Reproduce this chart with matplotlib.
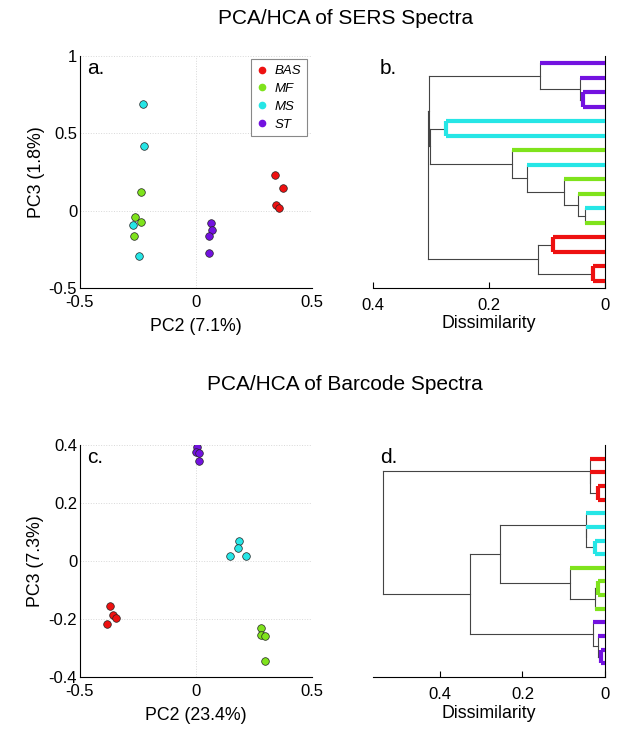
import matplotlib
matplotlib.use("Agg")
import matplotlib.pyplot as plt
from matplotlib.lines import Line2D

plt.rcParams["font.family"] = ["Liberation Sans", "DejaVu Sans"]

# ---------- data ----------
groups = ["BAS", "MF", "MS", "ST"]
group_colors = {"BAS": "#ee1111", "MF": "#7fe31c", "MS": "#26e6e6", "ST": "#7312e0"}

# SERS PCA scores (PC2, PC3)
sers_pc2 = {
    "BAS": [0.339, 0.375, 0.344, 0.358],
    "MF": [-0.237, -0.263, -0.237, -0.266],
    "MS": [-0.227, -0.223, -0.270, -0.245],
    "ST": [0.064, 0.070, 0.055, 0.057],
}
sers_pc3 = {
    "BAS": [0.229, 0.146, 0.039, 0.017],
    "MF": [0.118, -0.039, -0.075, -0.161],
    "MS": [0.692, 0.418, -0.092, -0.293],
    "ST": [-0.081, -0.126, -0.161, -0.274],
}

# Barcode PCA scores (PC2, PC3)
bar_pc2 = {
    "BAS": [-0.371, -0.359, -0.345, -0.385],
    "MF": [0.282, 0.279, 0.296, 0.296],
    "MS": [0.186, 0.181, 0.148, 0.217],
    "ST": [0.005, -0.001, 0.014, 0.012],
}
bar_pc3 = {
    "BAS": [-0.155, -0.187, -0.196, -0.216],
    "MF": [-0.231, -0.256, -0.260, -0.345],
    "MS": [0.070, 0.045, 0.017, 0.018],
    "ST": [0.394, 0.377, 0.374, 0.346],
}

# dendrogram leaves (top to bottom) and merges (child a, child b, dissimilarity)
sers_leaves = ["ST", "ST", "ST", "ST", "MS", "MS", "MF", "MS",
               "MF", "MF", "MS", "MF", "BAS", "BAS", "BAS", "BAS"]
sers_merges = [
    (2, 3, 0.038), (1, 16, 0.0425), (0, 17, 0.1126), (4, 5, 0.2736),
    (10, 11, 0.034), (9, 20, 0.0466), (8, 21, 0.0707), (7, 22, 0.134),
    (6, 23, 0.160), (19, 24, 0.302), (18, 25, 0.303), (12, 13, 0.0897),
    (14, 15, 0.0207), (27, 28, 0.1155), (26, 29, 0.305),
]

bar_leaves = ["BAS", "BAS", "BAS", "BAS", "MS", "MS", "MS", "MS",
              "MF", "MF", "MF", "MF", "ST", "ST", "ST", "ST"]
bar_merges = [
    (2, 3, 0.016), (1, 16, 0.0355), (0, 17, 0.037), (6, 7, 0.025),
    (5, 19, 0.045), (4, 20, 0.0468), (9, 10, 0.016), (11, 22, 0.024),
    (8, 23, 0.0855), (21, 24, 0.254), (14, 15, 0.0097), (13, 26, 0.016),
    (12, 27, 0.029), (25, 28, 0.327), (18, 29, 0.537),
]

TICK_FS = 12
LABEL_FS = 12.8


def pca_panel(ax, pc2, pc3, ylim, yticks, yticklabels, xlabel, ylabel):
    for g in groups:
        ax.scatter(pc2[g], pc3[g], s=30, c=group_colors[g], edgecolors="#222222",
                   linewidths=0.5, zorder=3)
    ax.set_xlim(-0.5, 0.5)
    ax.set_ylim(*ylim)
    ax.set_xticks([-0.5, 0, 0.5])
    ax.set_xticklabels(["-0.5", "0", "0.5"])
    ax.set_yticks(yticks)
    ax.set_yticklabels(yticklabels)
    ax.grid(True, color="#d8d8d8", linestyle=":", linewidth=0.7)
    ax.spines["top"].set_visible(False)
    ax.spines["right"].set_visible(False)
    ax.tick_params(direction="in", length=0, labelsize=TICK_FS)
    ax.tick_params(axis="x", pad=5)
    ax.tick_params(axis="y", pad=2)
    ax.set_xlabel(xlabel, fontsize=LABEL_FS, labelpad=6)
    ax.set_ylabel(ylabel, fontsize=LABEL_FS, labelpad=3)


def dendro_panel(ax, leaves, merges, xmax, ylim):
    n = len(leaves)
    ypos = {i: i + 1 for i in range(n)}
    height = {i: 0.0 for i in range(n)}
    for k, (a, b, d) in enumerate(merges):
        node = n + k
        same = a < n and b < n and leaves[a] == leaves[b]
        for c in (a, b):
            if c < n:
                ax.plot([0, d], [ypos[c], ypos[c]], color=group_colors[leaves[c]],
                        lw=3, solid_capstyle="butt", zorder=3)
            else:
                ax.plot([height[c], d], [ypos[c], ypos[c]], color="#444444", lw=0.8, zorder=2)
        if same:
            ax.plot([d, d], [ypos[a], ypos[b]], color=group_colors[leaves[a]],
                    lw=3, solid_capstyle="butt", zorder=3)
        else:
            ax.plot([d, d], [ypos[a], ypos[b]], color="#444444", lw=0.8, zorder=2)
        ypos[node] = (ypos[a] + ypos[b]) / 2
        height[node] = d
    ax.set_xlim(xmax, 0)
    ax.set_ylim(*ylim)
    ax.set_xticks([0.4, 0.2, 0])
    ax.set_xticklabels(["0.4", "0.2", "0"])
    ax.set_yticks([])
    ax.spines["top"].set_visible(False)
    ax.spines["left"].set_visible(False)
    ax.tick_params(direction="in", length=4, labelsize=TICK_FS, pad=7)
    ax.set_xlabel("Dissimilarity", fontsize=LABEL_FS, labelpad=2)


fig = plt.figure(figsize=(6.24, 7.31), dpi=100)
w, h = 232 / 624, 232 / 731
ax_a = fig.add_axes([80 / 624, 1 - 288 / 731, w, h])
ax_b = fig.add_axes([373 / 624, 1 - 288 / 731, w, h])
ax_c = fig.add_axes([80 / 624, 1 - 677 / 731, w, h])
ax_d = fig.add_axes([373 / 624, 1 - 677 / 731, w, h])

pca_panel(ax_a, sers_pc2, sers_pc3, (-0.5, 1), [-0.5, 0, 0.5, 1],
          ["-0.5", "0", "0.5", "1"], "PC2 (7.1%)", "PC3 (1.8%)")
pca_panel(ax_c, bar_pc2, bar_pc3, (-0.4, 0.4), [-0.4, -0.2, 0, 0.2, 0.4],
          ["-0.4", "-0.2", "0", "0.2", "0.4"], "PC2 (23.4%)", "PC3 (7.3%)")

handles = [Line2D([], [], marker="o", ls="none", color=group_colors[g],
                  markersize=4.5, label=g) for g in groups]
leg = ax_a.legend(handles=handles, loc="upper right", bbox_to_anchor=(0.978, 0.987),
                  borderaxespad=0, frameon=True, fancybox=False, edgecolor="#888888",
                  framealpha=1, prop={"style": "italic", "size": 9.5}, labelspacing=0.42,
                  handlelength=0.8, handletextpad=0.5, borderpad=0.45)
leg.get_frame().set_linewidth(0.8)

dendro_panel(ax_b, sers_leaves, sers_merges, 0.4, (16.5, 0.5))
dendro_panel(ax_d, bar_leaves, bar_merges, 0.562, (17, 0))

for ax, lab in [(ax_a, "a."), (ax_b, "b."), (ax_c, "c."), (ax_d, "d.")]:
    ax.text(0.03, 0.945, lab, transform=ax.transAxes, fontsize=15, va="center", ha="left")

fig.text(0.553, 1 - 18 / 731, "PCA/HCA of SERS Spectra", fontsize=15, ha="center", va="center")
fig.text(0.553, 1 - 385 / 731, "PCA/HCA of Barcode Spectra", fontsize=15, ha="center", va="center")

plt.savefig("out.png", dpi=100)
plt.close()
